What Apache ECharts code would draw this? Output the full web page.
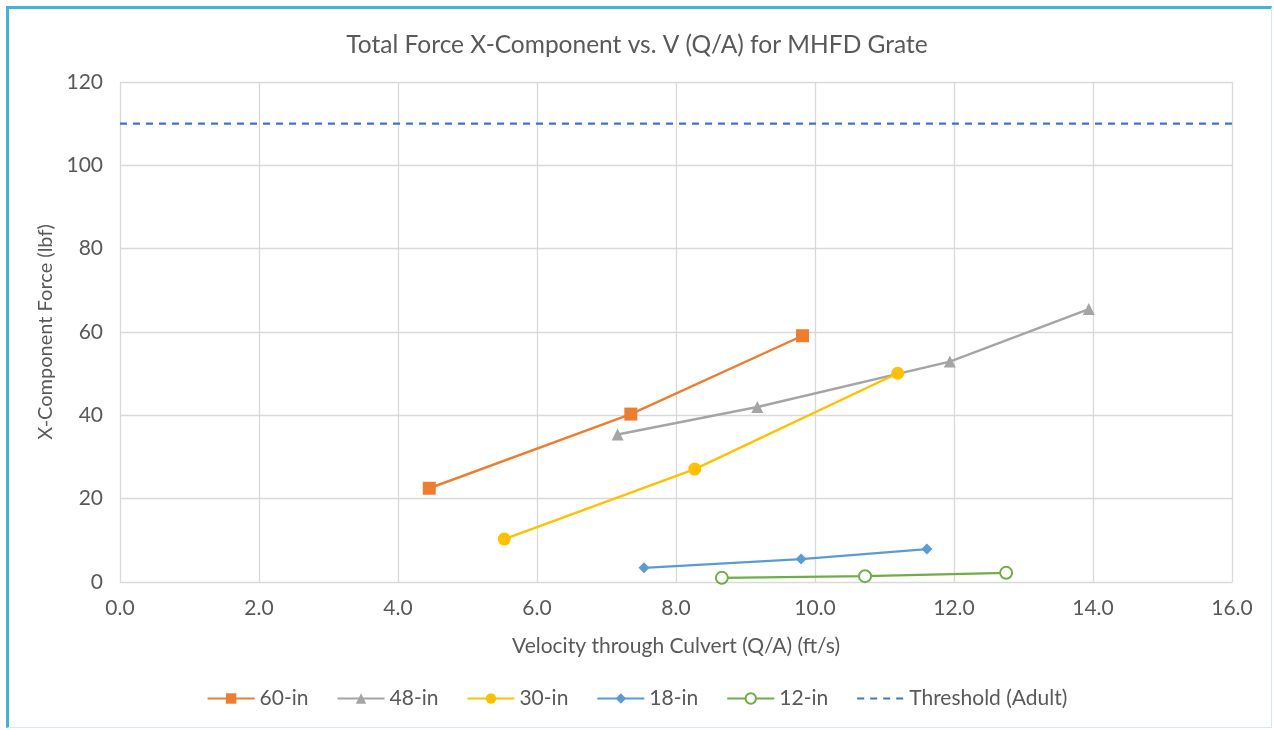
<!DOCTYPE html>
<html>
<head>
<meta charset="utf-8">
<script src="https://cdn.jsdelivr.net/npm/echarts@6/dist/echarts.min.js"></script>
<style>
  html, body { margin: 0; padding: 0; background: #fff; }
  #frame { position: absolute; left: 6px; top: 6px; width: 1266px; height: 722px;
    border-left: 3px solid #3fb4d6; border-top: 3px solid #3fb4d6;
    border-right: 1px solid #cfeaf3; border-bottom: 1px solid #cfeaf3; box-sizing: border-box; }
  #main { position: absolute; left: 0; top: 0; width: 1274px; height: 730px; }
</style>
</head>
<body>
<div id="frame"></div>
<div id="main"></div>
<script>
// x = velocity (ft/s), y = force (lbf)
const s60 = [[4.45, 22.5], [7.35, 40.3], [9.82, 59.1]];
const s48 = [[7.16, 35.4], [9.17, 42.0], [11.94, 52.9], [13.94, 65.5]];
const s30 = [[5.53, 10.3], [8.27, 27.1], [11.19, 50.1]];
const s18 = [[7.54, 3.4], [9.8, 5.5], [11.61, 7.9]];
const s12 = [[8.66, 1.0], [10.72, 1.4], [12.75, 2.2]];
const threshold = [[0, 110], [16, 110]];

const textColor = '#595959';
const gridColor = '#d9d9d9';

let chart = echarts.init(document.getElementById('main'));

let line = (name, data, color, symbol, size, extra) => Object.assign({
  name: name,
  type: 'line',
  data: data,
  symbol: symbol,
  symbolSize: size,
  showAllSymbol: true,
  lineStyle: { color: color, width: 2.4 },
  itemStyle: { color: color },
  emphasis: { disabled: true },
  z: 3
}, extra || {});

let option = {
  backgroundColor: 'transparent',
  animation: false,
  textStyle: { fontFamily: 'Lato, sans-serif' },
  title: {
    text: 'Total Force X-Component vs. V (Q/A) for MHFD Grate',
    left: 'center',
    top: 28,
    textStyle: { color: textColor, fontSize: 24.5, fontWeight: 'normal', fontFamily: 'Lato' }
  },
  grid: { left: 120, right: 42, top: 82, bottom: 148 },
  xAxis: {
    type: 'value',
    min: 0, max: 16, interval: 2,
    name: 'Velocity through Culvert (Q/A) (ft/s)',
    nameLocation: 'middle',
    nameGap: 54,
    nameTextStyle: { color: textColor, fontSize: 21 },
    axisLine: { show: true, lineStyle: { color: gridColor } },
    axisTick: { show: false },
    axisLabel: { color: textColor, fontSize: 21, margin: 16, formatter: v => v.toFixed(1) },
    splitLine: { show: true, lineStyle: { color: gridColor, width: 1.3 } }
  },
  yAxis: {
    type: 'value',
    min: 0, max: 120, interval: 20,
    name: 'X-Component Force (lbf)',
    nameLocation: 'middle',
    nameGap: 64,
    nameTextStyle: { color: textColor, fontSize: 20 },
    axisLine: { show: false },
    axisTick: { show: false },
    axisLabel: { color: textColor, fontSize: 21, margin: 17 },
    splitLine: { show: true, lineStyle: { color: gridColor, width: 1.3 } }
  },
  legend: {
    bottom: 16,
    left: 'center',
    itemWidth: 47,
    itemHeight: 13,
    itemGap: 28,
    textStyle: { color: textColor, fontSize: 21 },
    data: ['60-in', '48-in', '30-in', '18-in', '12-in',
      { name: 'Threshold (Adult)', itemStyle: { color: 'rgba(0,0,0,0)', borderWidth: 0 } }]
  },
  series: [
    line('60-in', s60, '#ED7D31', 'rect', 13),
    line('48-in', s48, '#A5A5A5', 'triangle', 12),
    line('30-in', s30, '#FFC000', 'circle', 13),
    line('18-in', s18, '#5B9BD5', 'diamond', 11),
    line('12-in', s12, '#70AD47', 'emptyCircle', 12, { itemStyle: { color: '#70AD47', borderColor: '#70AD47', borderWidth: 1.5 } }),
    {
      name: 'Threshold (Adult)',
      type: 'line',
      data: threshold,
      symbol: 'none',
      lineStyle: { color: '#4472C4', width: 2.4, type: [7, 6] },
      itemStyle: { color: '#4472C4' },
      emphasis: { disabled: true },
      z: 2
    }
  ]
};

chart.setOption(option);
</script>
</body>
</html>
